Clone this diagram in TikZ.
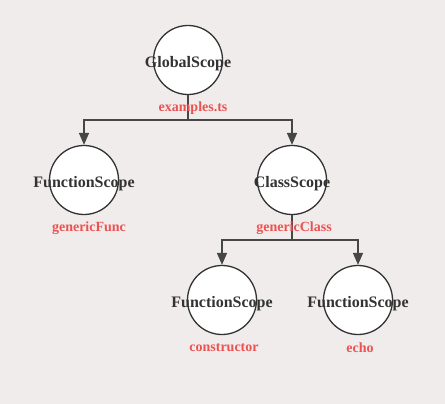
\documentclass[tikz,border=0pt]{standalone}
\usepackage{fontspec}
\setmainfont{Liberation Serif}
\usetikzlibrary{arrows.meta,calc}
\definecolor{bgcol}{HTML}{F0ECEB}
\definecolor{inkcol}{HTML}{333333}
\definecolor{linecol}{HTML}{464646}
\definecolor{namecol}{HTML}{EB5353}
\newcommand{\scopetext}[1]{\makebox[0pt]{\smash{\raisebox{-7.5pt}{#1}}}} % text may run over the circle
\tikzset{
scopenode/.style = {circle, draw = inkcol, line width = 1.3pt, fill = white, minimum size = 69pt, inner sep = 0pt, text = inkcol, font = \fontsize{16}{16}\selectfont\bfseries},
namelabel/.style = {text = namecol, inner sep = 0pt, font = \fontsize{14}{14}\selectfont\bfseries},
treeline/.style = {line width = 1.6pt, color = linecol},
treearrow/.style = {line width = 1.6pt, color = linecol, -{Triangle[length=12pt,width=10pt]}}}

\begin{document}
\begin{tikzpicture}[x=1pt,y=-1pt]
%
% background and page size
\useasboundingbox[fill=bgcol] (0,0) rectangle (445,404);
%
%''''''''''''''''''''''''''''Choose positions''''''''''''''''''''''''''''''''''''''''''''''''''''''''
\def\rowa{60} % row of the root
\def\rowb{180} % second row
\def\rowc{300} % third row
\def\gap{48} % distance from circle centre to its name
%''''''''''''''''''''''''''''''''''''''''''''''''''''''''''''''''''''''''''''''''''''''''''''''''''''
%
% scope circles
\node[scopenode] (global) at (188,\rowa) {\scopetext{GlobalScope}};
\node[scopenode] (func) at (84,\rowb) {\scopetext{FunctionScope}};
\node[scopenode] (class) at (292,\rowb) {\scopetext{ClassScope}};
\node[scopenode] (ctor) at (222,\rowc) {\scopetext{FunctionScope}};
\node[scopenode] (echo) at (358,\rowc) {\scopetext{FunctionScope}};
%
%----------------------------------------------------------------------------------
% connectors
\coordinate (globalfork) at (188,120);
\coordinate (classfork) at (292,240);
\draw[treeline](global.south)--(globalfork);
\draw[treearrow](globalfork)-|(func.north);
\draw[treearrow](globalfork)-|(class.north);
\draw[treeline](class.south)--(classfork);
\draw[treearrow](classfork)-|(ctor.north);
\draw[treearrow](classfork)-|(echo.north);
%----------------------------------------------------------------------------------
%
% names below the circles
\node[namelabel] (globalname) at ($(global)+(5,\gap)$) {examples.ts};
\node[namelabel] (funcname) at ($(func)+(5,\gap)$) {genericFunc};
\node[namelabel] (classname) at ($(class)+(2,\gap)$) {genericClass};
\node[namelabel] (ctorname) at ($(ctor)+(2,\gap)$) {constructor};
\node[namelabel] (echoname) at ($(echo)+(2,\gap)$) {echo};
%
\end{tikzpicture}
\end{document}
